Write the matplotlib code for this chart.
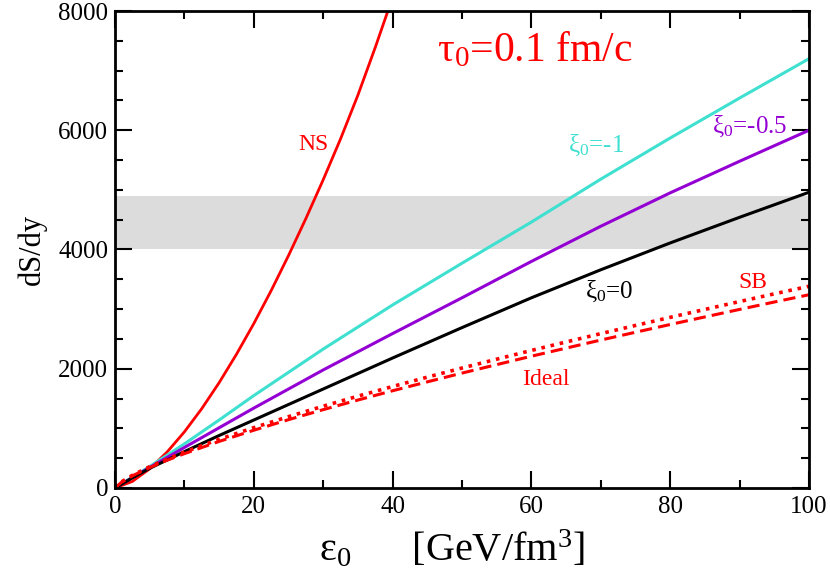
import matplotlib
matplotlib.use("Agg")
from matplotlib import pyplot as plt
from matplotlib.ticker import MultipleLocator

plt.rcParams['font.family'] = ['Liberation Serif', 'DejaVu Serif']
plt.rcParams['mathtext.fontset'] = 'custom'
plt.rcParams['mathtext.rm'] = 'Liberation Serif'
plt.rcParams['mathtext.it'] = 'Liberation Serif:italic'

# energy density grid for the Navier-Stokes curve
eps_ns = [0, 2.5, 5, 7.5, 10, 12.5, 15, 17.5, 20, 22.5, 25, 27.5, 30, 32.5, 35, 37.5, 40]
ds_ns = [0, 110, 322, 603, 942, 1331, 1766, 2243, 2758, 3311, 3899, 4519, 5171, 5856, 6590, 7390, 8230]

# viscous curves with different xi_0
eps_visc = [0, 2.5, 5, 10, 15, 20, 30, 40, 50, 60, 70, 80, 90, 100]
ds_xi_m1 = [0, 180, 360, 740, 1140, 1550, 2330, 3070, 3770, 4460, 5180, 5870, 6540, 7200]
ds_xi_m05 = [0, 175, 345, 680, 1010, 1340, 1980, 2590, 3190, 3800, 4390, 4950, 5480, 6000]
ds_xi_0 = [0, 170, 330, 610, 880, 1140, 1660, 2180, 2690, 3190, 3660, 4110, 4540, 4960]

# ideal hydro and SB
eps_id = [0, 1, 2.5, 5, 7.5, 10, 15, 20, 25, 30, 35, 40, 45, 50, 55, 60, 65, 70, 75, 80, 85, 90, 95, 100]
ds_ideal = [0, 103, 204, 343, 465, 576, 781, 969, 1146, 1314, 1475, 1631, 1780, 1927, 2069,
            2210, 2346, 2481, 2612, 2742, 2869, 2995, 3119, 3241]
ds_sb = [0, 107, 213, 358, 485, 602, 816, 1012, 1196, 1372, 1540, 1702, 1859, 2012, 2160,
         2307, 2449, 2589, 2726, 2862, 2995, 3127, 3256, 3383]

# measured band
band_lo, band_hi = 4000, 4900

fig = plt.figure(figsize=(8.3, 5.79), dpi=100)
ax = fig.add_axes([0.1386, 0.1572, 0.8361, 0.8238])

ax.axhspan(band_lo, band_hi, facecolor='#dcdcdc', edgecolor='none', zorder=0)

ax.plot(eps_ns, ds_ns, color='#ff0000', lw=2.0)
ax.plot(eps_visc, ds_xi_m1, color='#40e0d0', lw=2.2)
ax.plot(eps_visc, ds_xi_m05, color='#9400d3', lw=2.2)
ax.plot(eps_visc, ds_xi_0, color='black', lw=2.2)
ax.plot(eps_id, ds_sb, color='#ff0000', lw=2.6, linestyle=(0, (1.0, 1.6)))
ax.plot(eps_id, ds_ideal, color='#ff0000', lw=2.2, linestyle=(0, (4.0, 2.0)))

ax.set_xlim(0, 100)
ax.set_ylim(0, 8000)
ax.xaxis.set_major_locator(MultipleLocator(20))
ax.xaxis.set_minor_locator(MultipleLocator(10))
ax.yaxis.set_major_locator(MultipleLocator(2000))
ax.yaxis.set_minor_locator(MultipleLocator(500))
ax.tick_params(which='both', direction='in', top=True, right=True, width=1.5, labelsize=18)
ax.tick_params(which='major', length=12)
ax.tick_params(which='minor', length=6)
ax.tick_params(axis='x', pad=6)
ax.tick_params(axis='y', pad=5)
for s in ax.spines.values():
    s.set_linewidth(2.0)

ax.set_xlabel(r'$\mathrm{ε}_\mathrm{0}$      [GeV/fm$^\mathrm{3}$]', fontsize=29, labelpad=2)
ax.xaxis.set_label_coords(0.486, -0.0855, transform=ax.transAxes)
ax.xaxis.label.set_va('top')
ax.set_ylabel('dS/dy', fontsize=22, labelpad=8)

ax.text(46.4, 7150, r'$\mathrm{τ}_\mathrm{0}$=0.1 fm/c', color='#ff0000', fontsize=30)
ax.text(26.4, 5670, 'NS', color='#ff0000', fontsize=17)
ax.text(65.3, 5640, r'$\mathrm{ξ}_\mathrm{0}$=-1', color='#40e0d0', fontsize=18)
ax.text(86.0, 5955, r'$\mathrm{ξ}_\mathrm{0}$=-0.5', color='#9400d3', fontsize=18)
ax.text(67.7, 3190, r'$\mathrm{ξ}_\mathrm{0}$=0', color='black', fontsize=18)
ax.text(89.8, 3356, 'SB', color='#ff0000', fontsize=17)
ax.text(58.6, 1728, 'Ideal', color='#ff0000', fontsize=17)

plt.savefig('out.png', dpi=100)
plt.close(fig)
